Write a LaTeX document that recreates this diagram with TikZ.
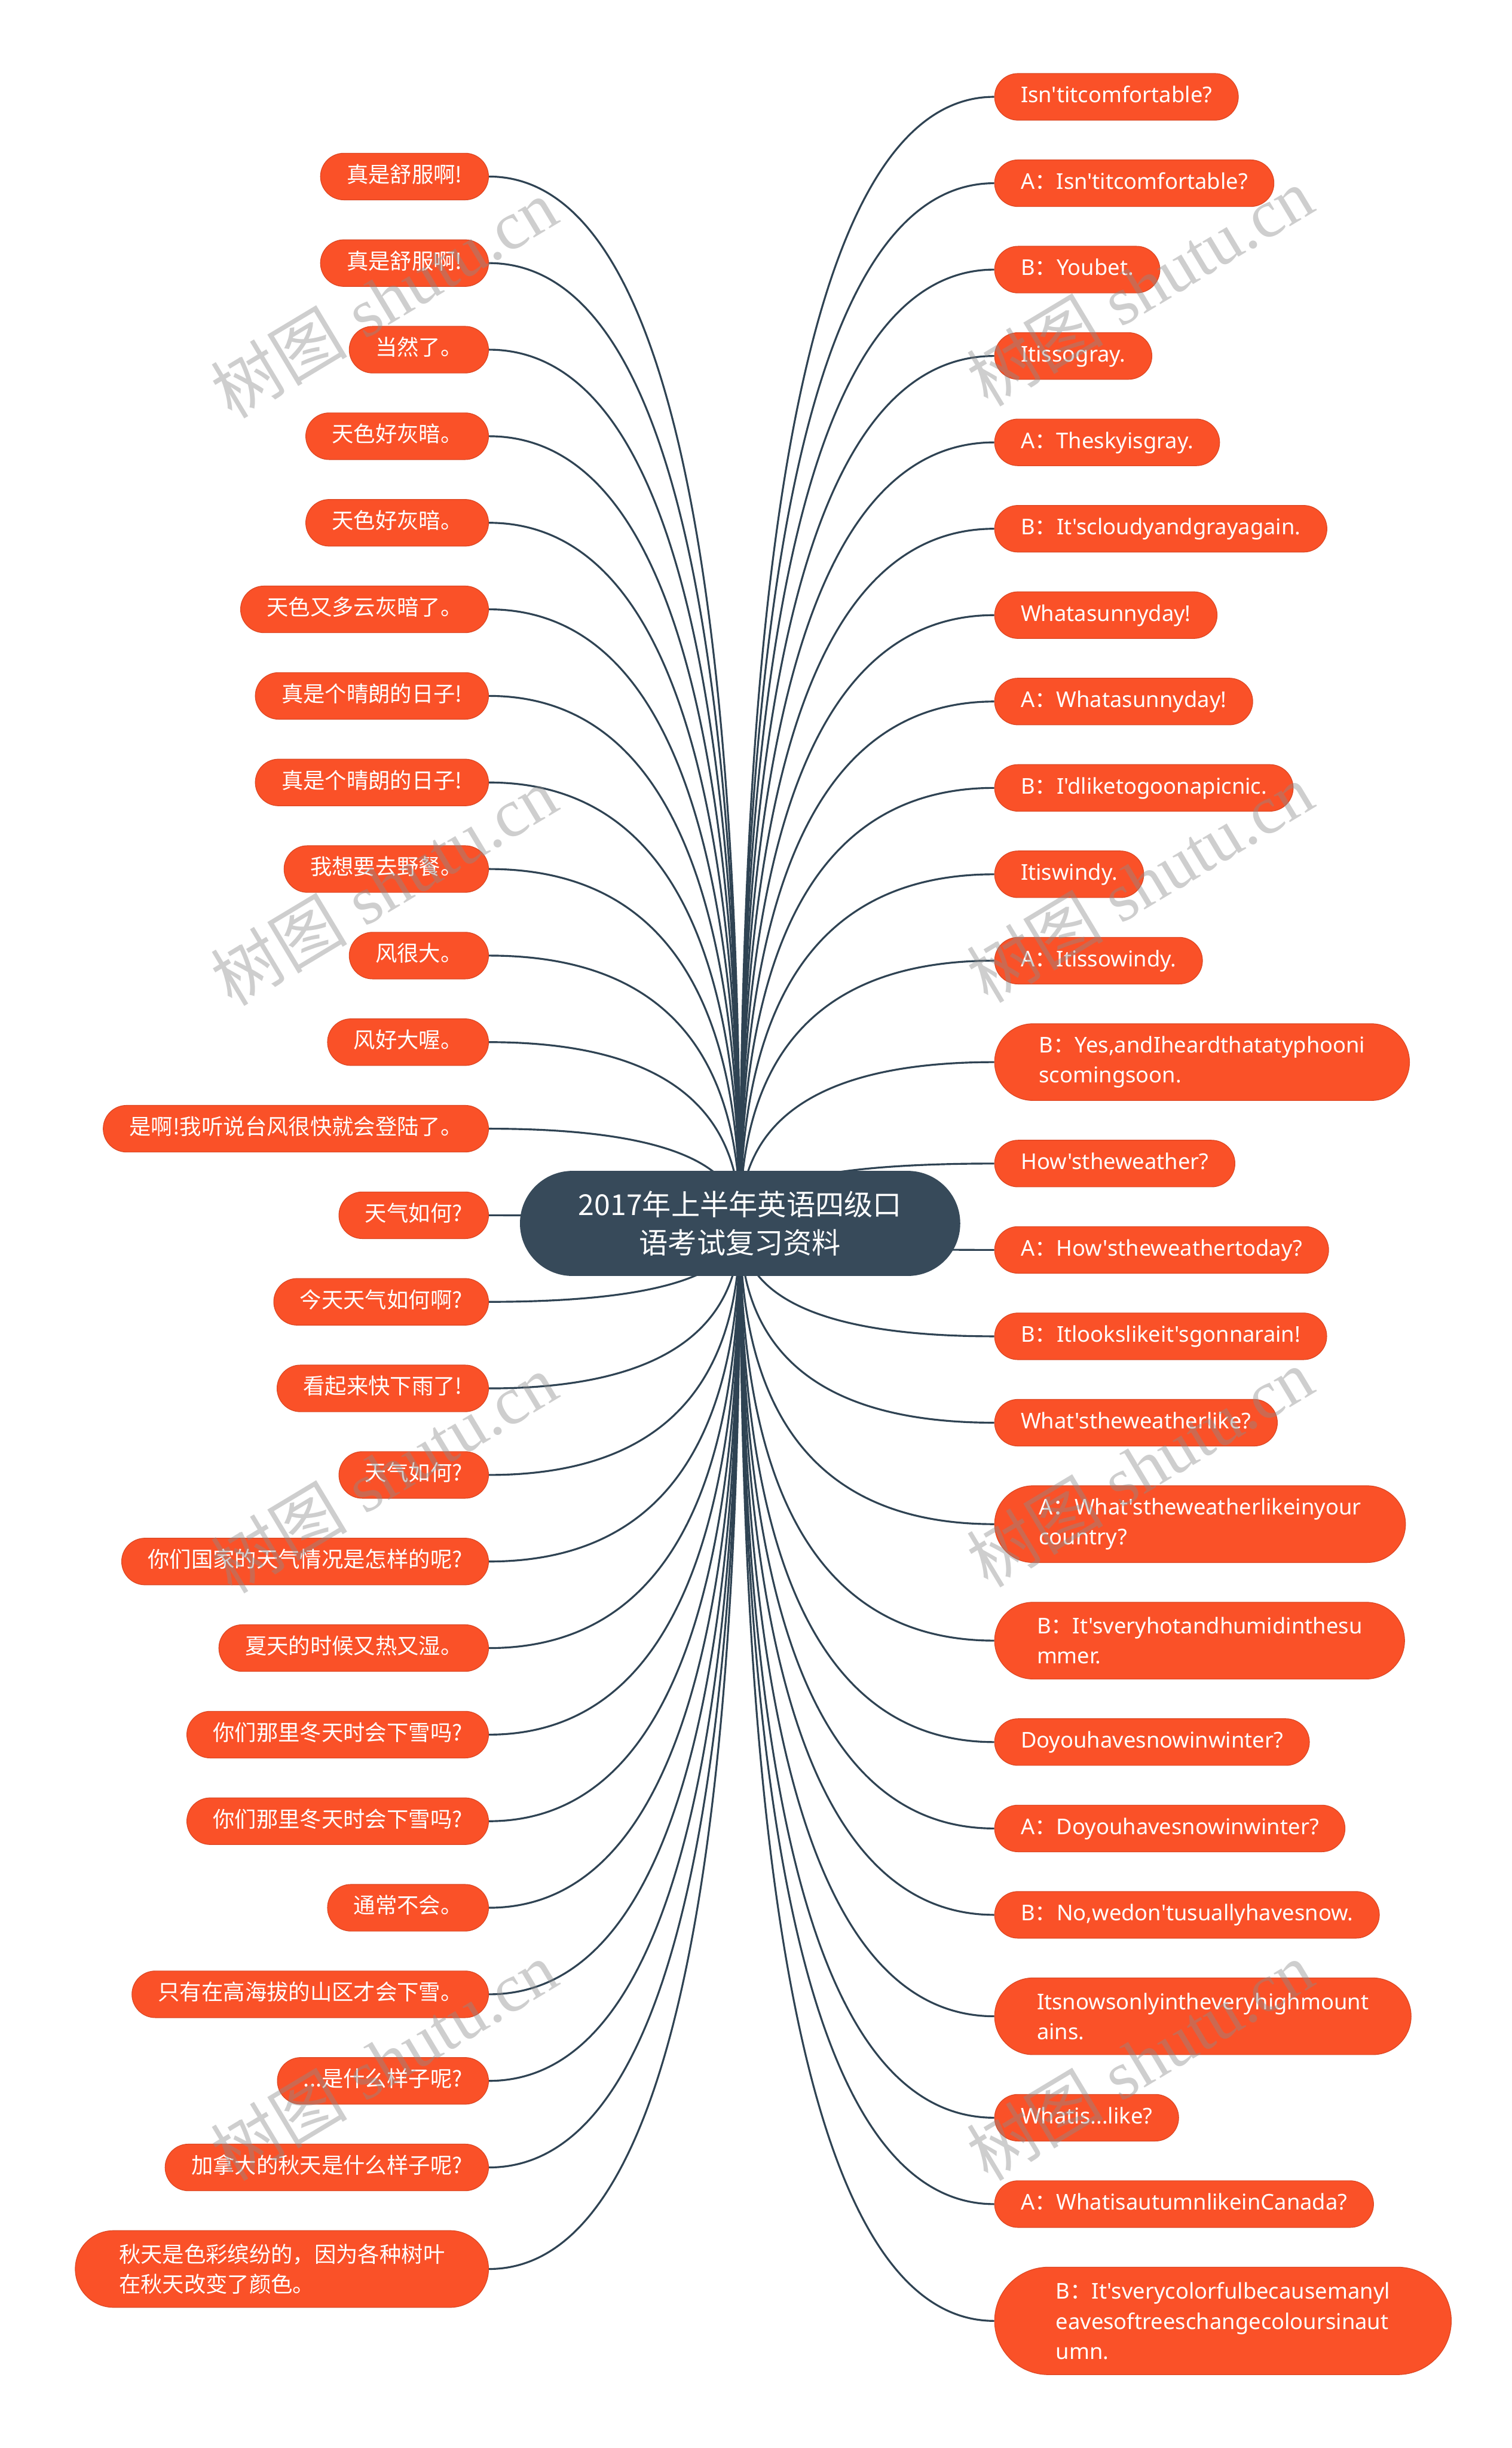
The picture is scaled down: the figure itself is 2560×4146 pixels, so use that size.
\documentclass[tikz,border=0pt]{standalone}
\usepackage{fontspec}
\setmainfont{Noto Sans}[Ligatures=TeXOff]
\newfontfamily\cjk{Noto Sans CJK SC}[Ligatures=TeXOff]
\newfontfamily\wmserif{Liberation Serif}
\usetikzlibrary{shapes.misc,calc}
\definecolor{nodeor}{HTML}{FA5128}
\definecolor{rootc}{HTML}{374A5A}
\definecolor{linec}{HTML}{2F4353}
\newcommand\qcolon{{\cjk ：}}
\pgfdeclarelayer{bg}
\pgfdeclarelayer{lines}
\pgfsetlayers{bg,lines,main}
\tikzset{
  leaf/.style={rounded rectangle, fill=nodeor, draw=nodeor!88!black, line width=0.3pt,
    text=white, inner ysep=0pt, align=left,
    font=\fontsize{9.2}{12.75}\selectfont},
  one/.style={minimum height=19.75pt, inner xsep=10pt, text height=7pt, text depth=2pt},
  two/.style={minimum height=32.5pt, inner xsep=14.5pt},
  three/.style={minimum height=45.5pt, inner xsep=19pt},
  rleaf/.style={leaf, anchor=west},
  lleaf/.style={leaf, anchor=east, font=\cjk\fontsize{9.2}{12.75}\selectfont},
  rootbox/.style={rounded rectangle, fill=rootc, text=white, minimum height=44.5pt,
    inner xsep=20pt, inner ysep=0pt, align=center,
    font=\cjk\fontsize{12.2}{16.25}\selectfont},
  conn/.style={draw=linec, line width=0.8pt},
  wmark/.style={rotate=31, text=black!45, text opacity=0.42, inner sep=0pt,
    font=\fontsize{29}{32}\selectfont}
}
\begin{document}
\begin{tikzpicture}[x=0.25pt,y=-0.25pt]
\begin{pgfonlayer}{bg}
\fill[white] (0,0) rectangle (2560,4146);
\end{pgfonlayer}
\useasboundingbox (0,0) rectangle (2560,4146);

\node[rootbox] (root) at (1253.5,2072) {2017年上半年英语四级口\\语考试复习资料};

% right column
\node[rleaf,one] (R1) at (1684,164) {Isn'titcomfortable?};
\node[rleaf,one] (R2) at (1684,310.3) {A\qcolon Isn'titcomfortable?};
\node[rleaf,one] (R3) at (1684,456.6) {B\qcolon Youbet.};
\node[rleaf,one] (R4) at (1684,602.9) {Itissogray.};
\node[rleaf,one] (R5) at (1684,749.2) {A\qcolon Theskyisgray.};
\node[rleaf,one] (R6) at (1684,895.5) {B\qcolon It'scloudyandgrayagain.};
\node[rleaf,one] (R7) at (1684,1041.8) {Whatasunnyday!};
\node[rleaf,one] (R8) at (1684,1188.1) {A\qcolon Whatasunnyday!};
\node[rleaf,one] (R9) at (1684,1334.4) {B\qcolon I'dliketogoonapicnic.};
\node[rleaf,one] (R10) at (1684,1480.7) {Itiswindy.};
\node[rleaf,one] (R11) at (1684,1627) {A\qcolon Itissowindy.};
\node[rleaf,two] (R12) at (1684,1798.8) {B\qcolon Yes,andIheardthatatyphooni\\scomingsoon.};
\node[rleaf,one] (R13) at (1684,1970.6) {How'stheweather?};
\node[rleaf,one] (R14) at (1684,2116.9) {A\qcolon How'stheweathertoday?};
\node[rleaf,one] (R15) at (1684,2263.2) {B\qcolon Itlookslikeit'sgonnarain!};
\node[rleaf,one] (R16) at (1684,2409.5) {What'stheweatherlike?};
\node[rleaf,two] (R17) at (1684,2581.3) {A\qcolon What'stheweatherlikeinyour\\country?};
\node[rleaf,two] (R18) at (1684,2778.6) {B\qcolon It'sveryhotandhumidinthesu\\mmer.};
\node[rleaf,one] (R19) at (1684,2950.4) {Doyouhavesnowinwinter?};
\node[rleaf,one] (R20) at (1684,3096.7) {A\qcolon Doyouhavesnowinwinter?};
\node[rleaf,one] (R21) at (1684,3243) {B\qcolon No,wedon'tusuallyhavesnow.};
\node[rleaf,two] (R22) at (1684,3414.8) {Itsnowsonlyintheveryhighmount\\ains.};
\node[rleaf,one] (R23) at (1684,3586.6) {Whatis...like?};
\node[rleaf,one] (R24) at (1684,3732.9) {A\qcolon WhatisautumnlikeinCanada?};
\node[rleaf,three] (R25) at (1684,3930.7) {B\qcolon It'sverycolorfulbecausemanyl\\eavesoftreeschangecoloursinaut\\umn.};

% left column
\node[lleaf,one] (L1) at (828,299) {真是舒服啊!};
\node[lleaf,one] (L2) at (828,445.6) {真是舒服啊!};
\node[lleaf,one] (L3) at (828,592.2) {当然了。};
\node[lleaf,one] (L4) at (828,738.8) {天色好灰暗。};
\node[lleaf,one] (L5) at (828,885.4) {天色好灰暗。};
\node[lleaf,one] (L6) at (828,1032) {天色又多云灰暗了。};
\node[lleaf,one] (L7) at (828,1178.6) {真是个晴朗的日子!};
\node[lleaf,one] (L8) at (828,1325.2) {真是个晴朗的日子!};
\node[lleaf,one] (L9) at (828,1471.8) {我想要去野餐。};
\node[lleaf,one] (L10) at (828,1618.4) {风很大。};
\node[lleaf,one] (L11) at (828,1765) {风好大喔。};
\node[lleaf,one] (L12) at (828,1911.6) {是啊!我听说台风很快就会登陆了。};
\node[lleaf,one] (L13) at (828,2058.2) {天气如何?};
\node[lleaf,one] (L14) at (828,2204.8) {今天天气如何啊?};
\node[lleaf,one] (L15) at (828,2351.4) {看起来快下雨了!};
\node[lleaf,one] (L16) at (828,2498) {天气如何?};
\node[lleaf,one] (L17) at (828,2644.6) {你们国家的天气情况是怎样的呢?};
\node[lleaf,one] (L18) at (828,2791.2) {夏天的时候又热又湿。};
\node[lleaf,one] (L19) at (828,2937.8) {你们那里冬天时会下雪吗?};
\node[lleaf,one] (L20) at (828,3084.4) {你们那里冬天时会下雪吗?};
\node[lleaf,one] (L21) at (828,3231) {通常不会。};
\node[lleaf,one] (L22) at (828,3377.6) {只有在高海拔的山区才会下雪。};
\node[lleaf,one] (L23) at (828,3524.2) {...是什么样子呢?};
\node[lleaf,one] (L24) at (828,3670.8) {加拿大的秋天是什么样子呢?};
\node[lleaf,two] (L25) at (828,3842.8) {秋天是色彩缤纷的，因为各种树叶\\在秋天改变了颜色。};

\begin{pgfonlayer}{lines}
\foreach \i in {1,...,25}{
  \draw[conn] (root.center) .. controls ($(root.center)!0.6667!(root.center |- R\i.west)$)
     and ($(R\i.west)!0.6667!(root.center |- R\i.west)$) .. (R\i.west);
  \draw[conn] (root.center) .. controls ($(root.center)!0.6667!(root.center |- L\i.east)$)
     and ($(L\i.east)!0.6667!(root.center |- L\i.east)$) .. (L\i.east);
}
\end{pgfonlayer}

% watermarks
\node[wmark] (W1) at (650,505) {{\cjk 树图} {\wmserif shutu.cn}};
\node[wmark] (W2) at (1930,485) {{\cjk 树图} {\wmserif shutu.cn}};
\node[wmark] (W3) at (650,1500) {{\cjk 树图} {\wmserif shutu.cn}};
\node[wmark] (W4) at (1930,1495) {{\cjk 树图} {\wmserif shutu.cn}};
\node[wmark] (W5) at (650,2495) {{\cjk 树图} {\wmserif shutu.cn}};
\node[wmark] (W6) at (1930,2485) {{\cjk 树图} {\wmserif shutu.cn}};
\node[wmark] (W7) at (650,3490) {{\cjk 树图} {\wmserif shutu.cn}};
\node[wmark] (W8) at (1930,3490) {{\cjk 树图} {\wmserif shutu.cn}};
\end{tikzpicture}
\end{document}
